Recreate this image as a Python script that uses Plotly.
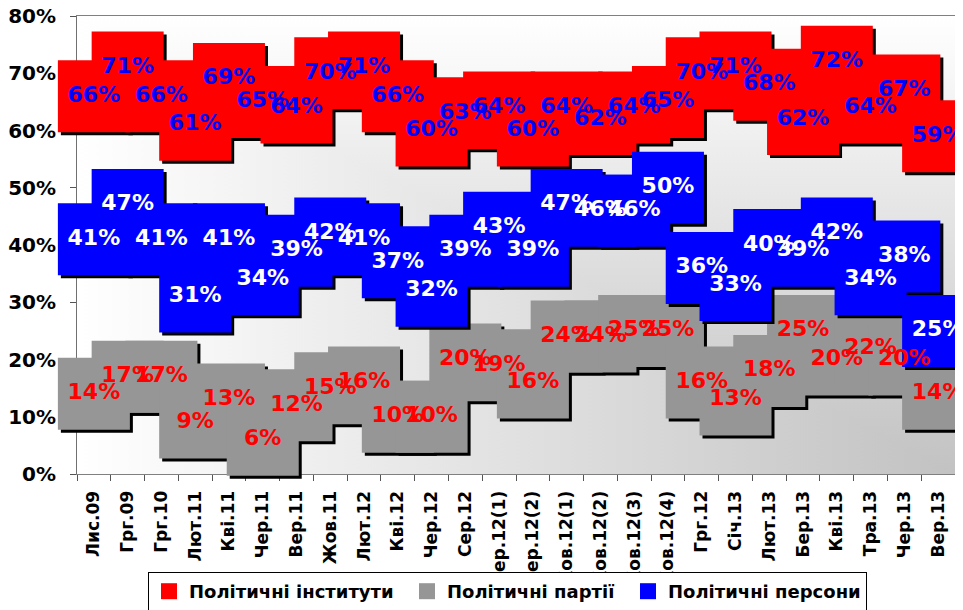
import base64
import plotly.graph_objects as go

categories = ["Лис.09", "Грг.09", "Грг.10", "Лют.11", "Кві.11", "Чер.11", "Вер.11", "Жов.11",
              "Лют.12", "Кві.12", "Чер.12", "Сер.12", "Вер.12(1)", "Вер.12(2)", "Жов.12(1)",
              "Жов.12(2)", "Жов.12(3)", "Жов.12(4)", "Грг.12", "Січ.13", "Лют.13", "Бер.13",
              "Кві.13", "Тра.13", "Чер.13", "Вер.13"]

institutions = [66, 71, 66, 61, 69, 65, 64, 70, 71, 66, 60, 63, 64, 60, 64, 62, 64, 65, 70, 71, 68, 62, 72, 64, 67, 59]
parties = [14, 17, 17, 9, 13, 6, 12, 15, 16, 10, 10, 20, 19, 16, 24, 24, 25, 25, 16, 13, 18, 25, 20, 22, 20, 14]
persons = [41, 47, 41, 31, 41, 34, 39, 42, 41, 37, 32, 39, 43, 39, 47, 46, 46, 50, 36, 33, 40, 39, 42, 34, 38, 25]

series_names = ["Політичні інститути", "Політичні партії", "Політичні персони"]
y_ticks = [0, 10, 20, 30, 40, 50, 60, 70, 80]

# page has a default 8px body margin; work in page pixels and subtract it
OFF = 8
PAGE_W, PAGE_H = 963, 610
PLOT_L, PLOT_R, PLOT_T, PLOT_B = 77, 955, 16, 474
W, H = PAGE_W - OFF, PAGE_H - OFF
ML = PLOT_L - OFF
MT = PLOT_T - OFF
MR = W - (PLOT_R - OFF)
MB = H - (PLOT_B - OFF)
plot_w = PLOT_R - PLOT_L
plot_h = PLOT_B - PLOT_T
n = len(categories)
px_per_x = plot_w / n
px_per_y = plot_h / 80.0
shadow_px = 3
dx = shadow_px / px_per_x
dy = shadow_px / px_per_y
MSIZE = 72

xs = list(range(n))
FONT = "DejaVu Sans"

fig = go.Figure()

series = [
    (series_names[0], institutions, "#ff0000", "#0000ff", 213),
    (series_names[1], parties, "#969696", "#ff0000", 176),
    (series_names[2], persons, "#0000ff", "#ffffff", None),
]

for name, vals, col, tcol, lw in series:
    fig.add_trace(go.Scatter(
        x=[x + dx for x in xs], y=[v - dy for v in vals], mode="markers",
        marker=dict(symbol="square", size=MSIZE, color="#000000", line=dict(width=0)),
        cliponaxis=False, showlegend=False, hoverinfo="skip"))
    tr = go.Scatter(
        x=xs, y=vals, mode="markers", name=name,
        marker=dict(symbol="square", size=MSIZE, color=col, line=dict(width=0)),
        cliponaxis=False, showlegend=True)
    if lw:
        tr.legendwidth = lw
    fig.add_trace(tr)

for name, vals, col, tcol, lw in series:
    fig.add_trace(go.Scatter(
        x=xs, y=vals, mode="text", text=[f"{v}%" for v in vals],
        textposition="middle center",
        textfont=dict(family=FONT, size=22, color=tcol, weight="bold"),
        cliponaxis=False, showlegend=False, hoverinfo="skip"))

svg = ("<svg xmlns='http://www.w3.org/2000/svg' width='100' height='100' viewBox='0 0 100 100' "
       "preserveAspectRatio='none'><defs>"
       "<linearGradient id='h' x1='0' y1='0' x2='1' y2='0'>"
       "<stop offset='0' stop-color='#ffffff'/><stop offset='1' stop-color='#c2c2c2'/></linearGradient>"
       "<linearGradient id='v' x1='0' y1='0' x2='0' y2='1'>"
       "<stop offset='0' stop-color='#ffffff'/><stop offset='1' stop-color='#c2c2c2'/></linearGradient>"
       "</defs><rect x='0' y='0' width='100' height='100' fill='url(#h)'/>"
       "<polygon points='0,0 100,0 100,100' fill='url(#v)'/></svg>")
src = "data:image/svg+xml;base64," + base64.b64encode(svg.encode("utf-8")).decode("ascii")

fig.update_layout(
    width=W, height=H,
    margin=dict(l=ML, r=MR, t=MT, b=MB, pad=0, autoexpand=False),
    paper_bgcolor="#ffffff", plot_bgcolor="#ffffff",
    images=[dict(source=src, xref="paper", yref="paper", x=0, y=1, sizex=1, sizey=1,
                 xanchor="left", yanchor="top", sizing="stretch", layer="below")],
    showlegend=True,
    legend=dict(orientation="h", x=(148 - PLOT_L) / plot_w, xanchor="left",
                y=(PLOT_B - 572) / plot_h, yanchor="top",
                bgcolor="#ffffff", bordercolor="#000000", borderwidth=1,
                font=dict(family=FONT, size=18, color="#000000", weight="bold"),
                traceorder="normal"),
    xaxis=dict(range=[-0.5, n - 0.5], tickmode="array", tickvals=xs, ticktext=categories,
               tickangle=-90, ticks="", showgrid=False, zeroline=False, automargin=False,
               showline=True, linecolor="#808080", linewidth=1, mirror=True,
               tickfont=dict(family=FONT, size=17, color="#000000", weight="bold"),
               ticklabelstandoff=9, layer="below traces", ticklabeloverflow="allow",
               minor=dict(tickmode="array", tickvals=[x - 0.5 for x in range(n + 1)],
                          ticks="outside", ticklen=6, tickcolor="#555555", tickwidth=1,
                          showgrid=False)),
    yaxis=dict(range=[0, 80], tickmode="array", tickvals=y_ticks,
               ticktext=[f"{t}%" for t in y_ticks], automargin=False,
               ticks="outside", ticklen=6, tickcolor="#555555", showgrid=False, zeroline=False,
               showline=True, linecolor="#707070", linewidth=1, mirror=True,
               tickfont=dict(family=FONT, size=20, color="#000000", weight="bold"),
               ticklabelstandoff=10, layer="below traces", ticklabeloverflow="allow"),
)

fig.write_html("out.html")
